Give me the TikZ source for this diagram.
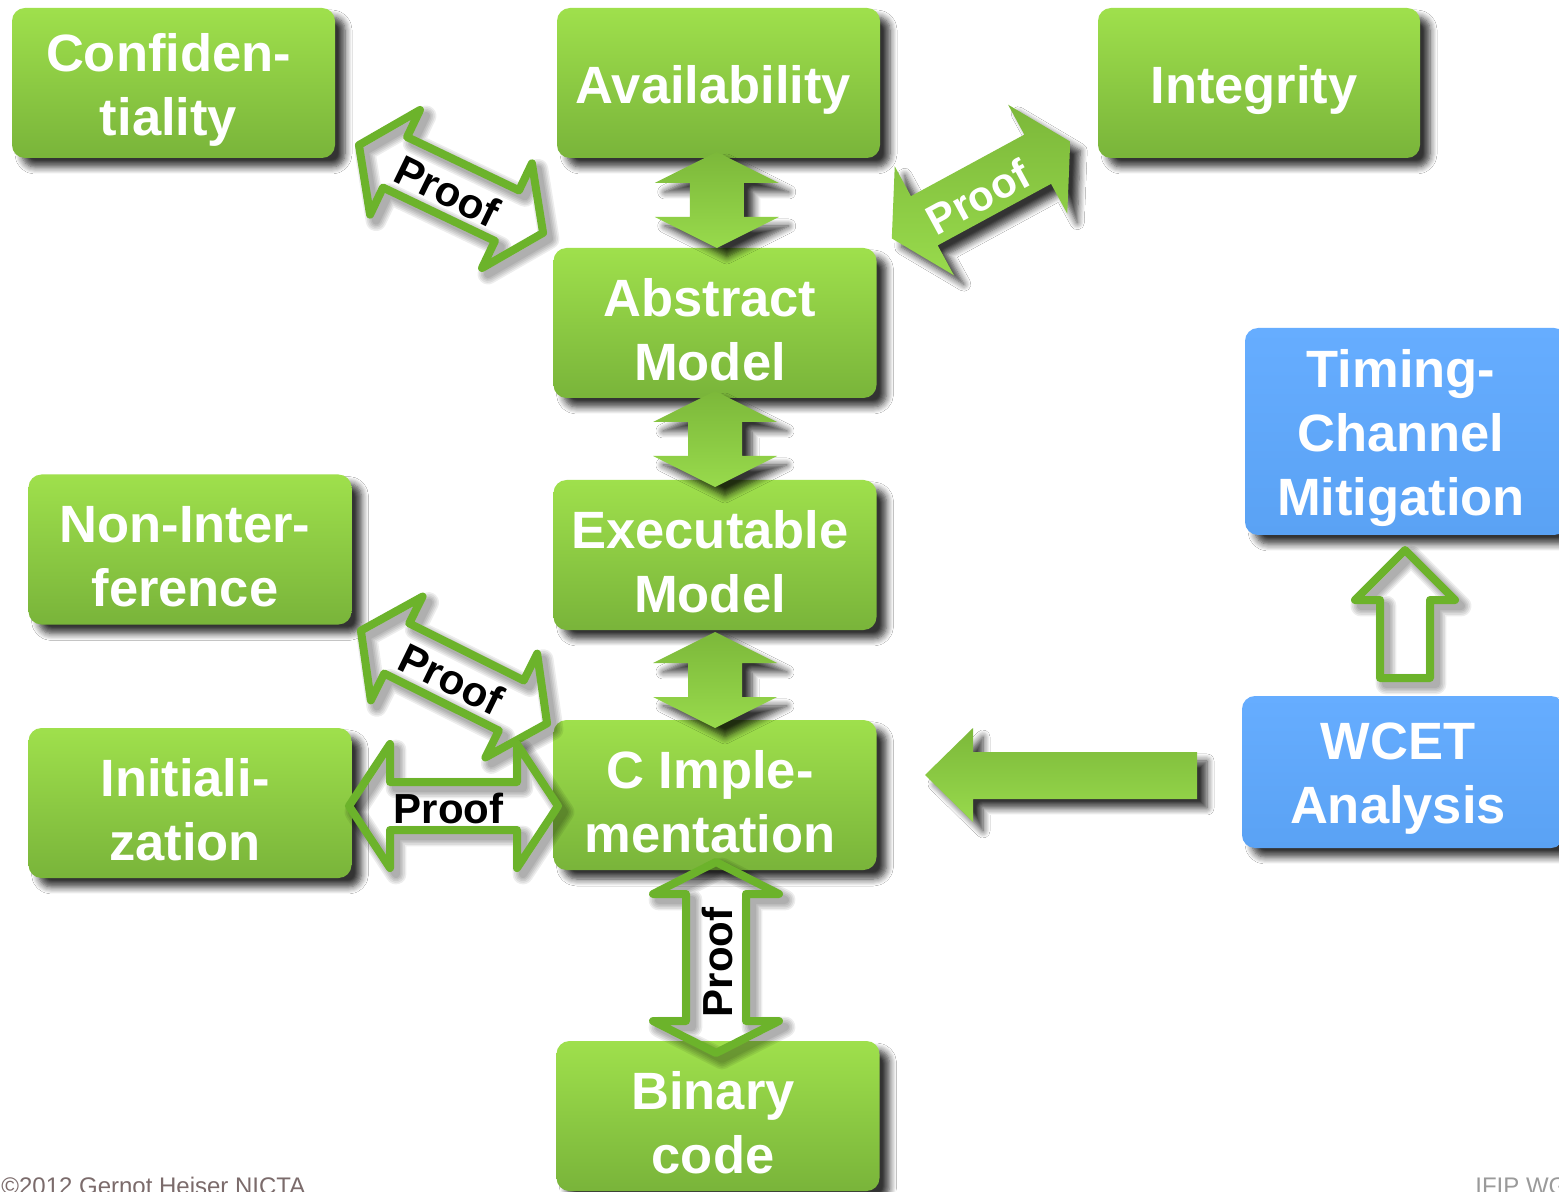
\documentclass[tikz,border=0pt]{standalone}
\usepackage{fontspec}
\setmainfont{Liberation Sans}
\usetikzlibrary{shadows.blur,calc}

\definecolor{gtop}{HTML}{9FE04C}
\definecolor{gbot}{HTML}{79B43A}
\definecolor{atop}{HTML}{7CB83A}
\definecolor{abot}{HTML}{98DA4C}
\definecolor{btop}{HTML}{66ADFF}
\definecolor{bbot}{HTML}{5AA2F4}
\definecolor{ogreen}{HTML}{6CB32B}
\definecolor{foota}{HTML}{7B6B6B}
\definecolor{footb}{HTML}{9A9A9A}

% double-headed block arrow along the x axis, centred on the origin
% #1 total length, #2 head half-width, #3 shaft half-width, #4 head length
\newcommand\dblshape[4]{(-#1/2,0) -- ({-#1/2+#4},#2) -- ({-#1/2+#4},#3) -- ({#1/2-#4},#3) -- ({#1/2-#4},#2) -- (#1/2,0) -- ({#1/2-#4},-#2) -- ({#1/2-#4},-#3) -- ({-#1/2+#4},-#3) -- ({-#1/2+#4},-#2) -- cycle}
% the same arrow standing upright
\newcommand\vdblshape[4]{(0,-#1/2) -- (#2,{-#1/2+#4}) -- (#3,{-#1/2+#4}) -- (#3,{#1/2-#4}) -- (#2,{#1/2-#4}) -- (0,#1/2) -- (-#2,{#1/2-#4}) -- (-#3,{#1/2-#4}) -- (-#3,{-#1/2+#4}) -- (-#2,{-#1/2+#4}) -- cycle}

% outlined double arrow with a soft stroke shadow
% #1 centre coordinate, #2 angle, #3-#6 as for \dblshape
\newcommand\outlinedbl[6]{%
  \foreach \k in {0,...,4}{%
    \draw[shadowstroke, line width=4pt+1.6pt*\k, shift={($(#1)+(6,-6)$)}, rotate=#2] \dblshape{#3}{#4}{#5}{#6};
  }%
  \draw[outl, shift={(#1)}, rotate=#2] \dblshape{#3}{#4}{#5}{#6};
}

% a rounded box with its caption set a little left of and below the centre
% #1 style, #2 name, #3 centre, #4 caption
\newcommand\boxnode[4]{%
  \node[#1] (#2) at (#3) {};
  \node[boxtext] (#2-text) at ($(#2.center)+(-5,-7)$) {#4};
}

\begin{document}
\begin{tikzpicture}[x=0.5pt,y=0.5pt,
  softshadow/.style={blur shadow={shadow xshift=5pt, shadow yshift=-4.5pt, shadow blur radius=3.5pt, shadow blur steps=7, shadow opacity=80}},
  box/.style={rounded corners=6.5pt, minimum width=161.5pt, minimum height=75pt,
    inner sep=0pt, softshadow},
  boxtext/.style={align=center, text=white, inner sep=0pt,
    font=\bfseries\fontsize{26.25pt}{32pt}\selectfont},
  gbox/.style={box, top color=gtop, bottom color=gbot},
  bbox/.style={box, top color=btop, bottom color=bbot},
  farrow/.style={top color=atop, bottom color=abot, softshadow},
  outl/.style={draw=ogreen, line width=4pt, line join=round},
  shadowstroke/.style={draw=black, draw opacity=0.07, line join=round},
  prooftext/.style={font=\bfseries\fontsize{21pt}{24pt}\selectfont, inner sep=0pt},
  foot/.style={font=\fontsize{12pt}{14pt}\selectfont, inner sep=0pt, anchor=base west}]

\useasboundingbox (0,0) rectangle (1559,1191);
\clip (0,0) rectangle (1559,1191);
\fill[white] (0,0) rectangle (1559,1191);

% property and model boxes
\boxnode{gbox}{conf}{173.5,1108}{Confiden-\\tiality}
\boxnode{gbox}{avail}{718.5,1108}{Availability}
\boxnode{gbox, minimum width=161pt}{integ}{1259,1108}{Integrity}
\boxnode{gbox}{abstract}{715,868}{Abstract\\Model}
\boxnode{gbox}{exec}{715,636}{Executable\\Model}
\boxnode{gbox}{nonint}{190,641.5}{Non-Inter-\\ference}
\boxnode{gbox}{init}{190,388}{Initiali-\\zation}
\boxnode{gbox}{cimpl}{715,396}{C Imple-\\mentation}
\boxnode{gbox}{binary}{718,75}{Binary\\code}
\boxnode{bbox, minimum width=161pt, minimum height=103.5pt}{timing}{1406,759.5}{Timing-\\Channel\\Mitigation}
\boxnode{bbox, minimum width=161pt, minimum height=76pt}{wcet}{1403,419}{WCET\\Analysis}

% filled refinement arrows between the model layers
\coordinate (v1) at ($(avail.south)!0.5!(abstract.north)+(0,3)$);
\coordinate (v2) at ($(abstract.south)!0.5!(exec.north)$);
\coordinate (v3) at ($(exec.south)!0.5!(cimpl.north)+(0,-5)$);
\foreach \c in {v1,v2,v3}{
  \path[farrow, shift={(\c)}] \vdblshape{96}{62}{27}{31};
}

% filled proof arrow between availability and integrity
\coordinate (p2) at (981,1001);
\path[farrow, shift={(p2)}, rotate=28.5] \dblshape{203}{62}{28}{37};
\node[prooftext, text=white, rotate=28.5] (p2-text) at ($(p2)+(-3,-7)$) {Proof};

% WCET feeds the C implementation
\path[farrow] (925,416) -- (973,463) -- (973,439) -- (1197,439) -- (1197,392)
  -- (973,392) -- (973,369) -- cycle;

% outlined proof arrows
\coordinate (p1) at (451,1002);
\coordinate (p3) at (454,514);
\coordinate (p4) at (453.5,385);
\coordinate (p5) at (716,233.5);
\outlinedbl{p1}{-25.5}{204}{58}{28}{40}
\outlinedbl{p3}{-26.5}{208}{58}{28}{40}
\outlinedbl{p4}{0}{209}{62}{24}{41}
\outlinedbl{p5}{90}{191}{63}{30}{32}
\node[prooftext, rotate=-26] (p1-text) at ($(p1)+(-4,-2)$) {Proof};
\node[prooftext, rotate=-26] (p3-text) at ($(p3)+(-3,-2)$) {Proof};
\node[prooftext] (p4-text) at ($(p4)+(-5,-2)$) {Proof};
\node[prooftext, rotate=90] (p5-text) at ($(p5)+(1,-5)$) {Proof};

% WCET analysis supports timing-channel mitigation
\foreach \k in {0,...,4}{
  \draw[shadowstroke, line width=4pt+1.6pt*\k, shift={(6,-6)}]
    (1405,641) -- (1455,591) -- (1430,591) -- (1430,513) -- (1380,513) -- (1380,591) -- (1355,591) -- cycle;
}
\draw[outl] (1405,641) -- (1455,591) -- (1430,591) -- (1430,513) -- (1380,513) -- (1380,591) -- (1355,591) -- cycle;

% footer
\node[foot, text=foota] (copy) at (1,-3) {©2012 Gernot Heiser NICTA};
\node[foot, text=footb] (venue) at (1475,-3) {IFIP WG};
\end{tikzpicture}
\end{document}
